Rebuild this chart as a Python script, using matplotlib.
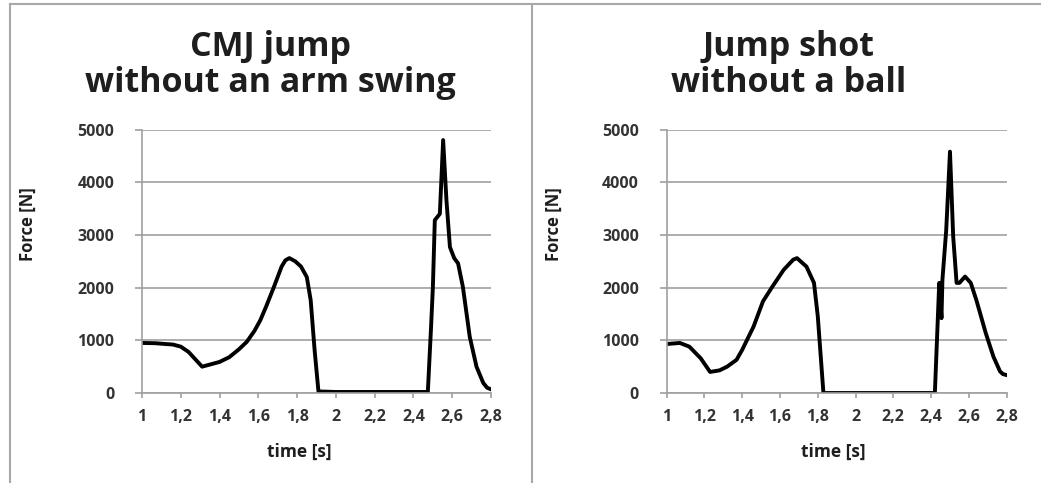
import matplotlib.pyplot as plt
from matplotlib.lines import Line2D

# CMJ jump without an arm swing
cmj_time = [1.0, 1.07, 1.12, 1.16, 1.2, 1.24, 1.28, 1.31, 1.35, 1.4, 1.45,
            1.5, 1.54, 1.58, 1.61, 1.64, 1.68, 1.72, 1.74, 1.76, 1.79, 1.82,
            1.85, 1.87, 1.89, 1.91, 2.0, 2.2, 2.4, 2.474, 2.49, 2.50, 2.51,
            2.536, 2.553, 2.57, 2.588, 2.61, 2.63, 2.655, 2.69, 2.725, 2.76,
            2.78, 2.8]
cmj_force = [950, 945, 930, 920, 880, 780, 620, 500, 540, 590, 680,
             830, 970, 1180, 1380, 1640, 2010, 2400, 2520, 2560, 2500, 2400,
             2200, 1760, 820, 30, 20, 20, 20, 20, 1200, 2000, 3280,
             3400, 4800, 3660, 2770, 2560, 2460, 2010, 1070, 500, 190,
             100, 70]

# Jump shot without a ball
shot_time = [1.0, 1.07, 1.12, 1.18, 1.23, 1.28, 1.32, 1.37, 1.40, 1.46, 1.51,
             1.56, 1.62, 1.67, 1.69, 1.74, 1.78, 1.80, 1.83, 2.0, 2.2, 2.42,
             2.443, 2.455, 2.46, 2.48, 2.50, 2.517, 2.535, 2.55, 2.58, 2.61,
             2.64, 2.69, 2.73, 2.765, 2.78, 2.8]
shot_force = [930, 950, 880, 660, 400, 430, 500, 630, 820, 1260, 1740,
              2020, 2340, 2530, 2560, 2400, 2090, 1460, 0, 0, 0, 0,
              2090, 1420, 2150, 3090, 4580, 2970, 2090, 2090, 2210, 2090,
              1760, 1130, 690, 410, 360, 340]

titles = ["CMJ jump\nwithout an arm swing", "Jump shot\nwithout a ball"]
x_ticks = [1.0, 1.2, 1.4, 1.6, 1.8, 2.0, 2.2, 2.4, 2.6, 2.8]
x_tick_labels = ["1", "1,2", "1,4", "1,6", "1,8", "2", "2,2", "2,4", "2,6", "2,8"]
y_ticks = [0, 1000, 2000, 3000, 4000, 5000]

plt.rcParams["font.family"] = ["Open Sans", "DejaVu Sans"]

fig = plt.figure(figsize=(10.41, 4.83), dpi=100)
grid_color = "#a0a0a0"
text_color = "#1e1e1e"
tick_color = "#333333"

axes_boxes = [
    [0.1364, 0.1863, 0.3353, 0.5455],
    [0.6404, 0.1863, 0.3266, 0.5455],
]
title_x = [0.367, 0.36]
xlabel_x = [0.45, 0.49]
ylabel_x = [-0.30, -0.305]
series = [(cmj_time, cmj_force), (shot_time, shot_force)]

for i, (box, (t, f), title) in enumerate(zip(axes_boxes, series, titles)):
    ax = fig.add_axes(box)
    ax.plot(t, f, color="black", lw=2.8, solid_joinstyle="round")
    ax.set_xlim(1.0, 2.8)
    ax.set_ylim(0, 5000)
    ax.set_xticks(x_ticks)
    ax.set_xticklabels(x_tick_labels)
    ax.set_yticks(y_ticks)
    ax.yaxis.grid(True, color=grid_color, lw=1.2)
    ax.set_axisbelow(True)
    for side in ["top", "right"]:
        ax.spines[side].set_visible(False)
    for side in ["left", "bottom"]:
        ax.spines[side].set_color(grid_color)
        ax.spines[side].set_linewidth(1.2)
    ax.tick_params(axis="x", length=3.6, width=1.2, color=grid_color, pad=8,
                   labelsize=11.5, labelcolor=tick_color)
    ax.tick_params(axis="y", length=5, width=1.2, color=grid_color, pad=15,
                   labelsize=11.5, labelcolor=tick_color)
    for lab in ax.get_xticklabels() + ax.get_yticklabels():
        lab.set_fontweight("bold")
    ax.set_xlabel("time [s]", fontsize=12.5, fontweight="bold",
                  color=text_color)
    ax.xaxis.set_label_coords(xlabel_x[i], -0.19)
    ax.set_ylabel("Force [N]", fontsize=12, fontweight="bold",
                  color=text_color)
    ax.yaxis.set_label_coords(ylabel_x[i], 0.64)
    ax.set_title(title, fontsize=24.5, fontweight="bold", pad=27,
                 color=text_color, linespacing=1.08, x=title_x[i])

# outer frame and divider between the two panels
frame = dict(color="#a8a8a8", lw=1.5, transform=fig.transFigure)
fig.add_artist(Line2D([0.0096, 1.0], [0.992, 0.992], **frame))
fig.add_artist(Line2D([0.0096, 0.0096], [0.0, 0.992], **frame))
fig.add_artist(Line2D([0.5115, 0.5115], [0.0, 0.992], **frame))

fig.savefig("out.png", dpi=100)
